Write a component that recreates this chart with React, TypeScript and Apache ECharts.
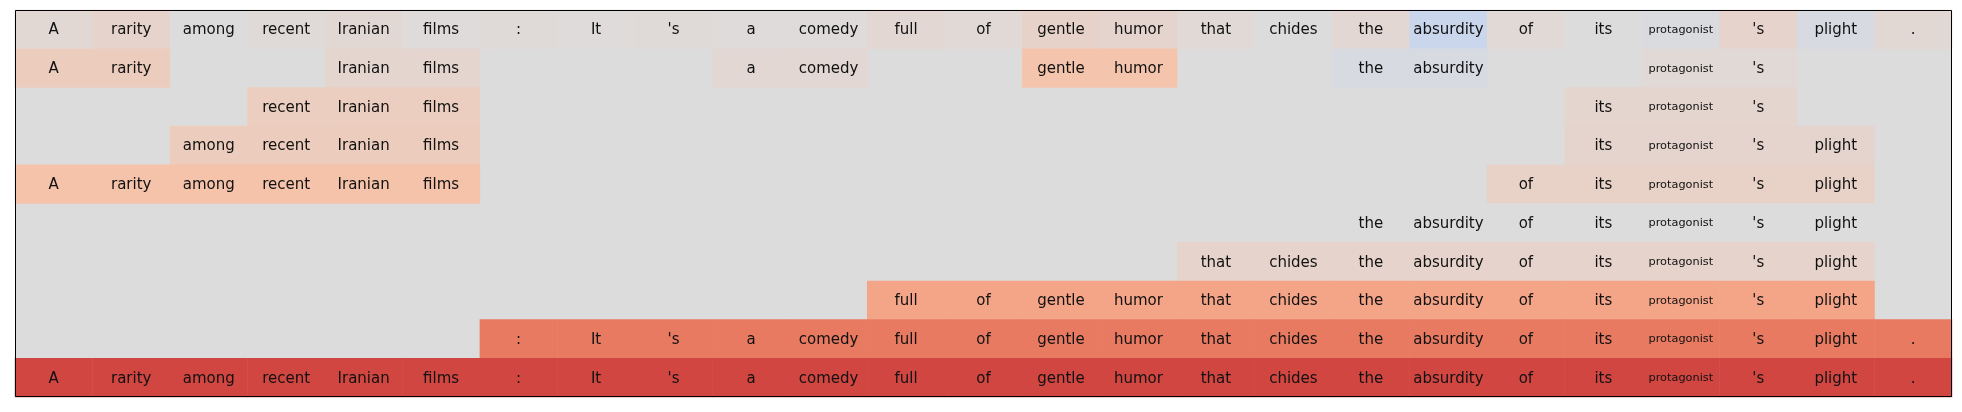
import React, { useEffect, useRef } from "react";
import * as echarts from "echarts";

const tokens = ["A", "rarity", "among", "recent", "Iranian", "films", ":", "It", "'s", "a", "comedy", "full", "of", "gentle", "humor", "that", "chides", "the", "absurdity", "of", "its", "protagonist", "'s", "plight", "."];

const _ = null;
const row0 = [0.04, 0.09, 0.0, 0.02, 0.04, 0.01, 0.02, 0.01, 0.02, 0.01, 0.01, 0.05, 0.03, 0.1, 0.08, 0.03, 0.0, 0.05, -0.13, 0.03, 0.0, -0.03, 0.09, -0.04, 0.04];
const row1 = [0.16, 0.16, _, _, 0.07, 0.07, _, _, _, 0.05, 0.05, _, _, 0.25, 0.25, _, _, -0.04, -0.04, _, _, 0.03, 0.03, _, _];
const row2 = [_, _, _, 0.15, 0.15, 0.15, _, _, _, _, _, _, _, _, _, _, _, _, _, _, 0.07, 0.07, 0.07, _, _];
const row3 = [_, _, 0.16, 0.16, 0.16, 0.16, _, _, _, _, _, _, _, _, _, _, _, _, _, _, 0.08, 0.08, 0.08, 0.08, _];
const row4 = [0.26, 0.26, 0.26, 0.26, 0.26, 0.26, _, _, _, _, _, _, _, _, _, _, _, _, _, 0.11, 0.11, 0.11, 0.11, 0.11, _];
const row5 = [_, _, _, _, _, _, _, _, _, _, _, _, _, _, _, _, _, -0.01, -0.01, -0.01, -0.01, -0.01, -0.01, -0.01, _];
const row6 = [_, _, _, _, _, _, _, _, _, _, _, _, _, _, _, 0.09, 0.09, 0.09, 0.09, 0.09, 0.09, 0.09, 0.09, 0.09, _];
const row7 = [_, _, _, _, _, _, _, _, _, _, _, 0.44, 0.44, 0.44, 0.44, 0.44, 0.44, 0.44, 0.44, 0.44, 0.44, 0.44, 0.44, 0.44, _];
const row8 = [_, _, _, _, _, _, 0.64, 0.64, 0.64, 0.64, 0.64, 0.64, 0.64, 0.64, 0.64, 0.64, 0.64, 0.64, 0.64, 0.64, 0.64, 0.64, 0.64, 0.64, 0.64];
const row9 = [0.82, 0.82, 0.82, 0.82, 0.82, 0.82, 0.82, 0.82, 0.82, 0.82, 0.82, 0.82, 0.82, 0.82, 0.82, 0.82, 0.82, 0.82, 0.82, 0.82, 0.82, 0.82, 0.82, 0.82, 0.82];
const rows = [row0, row1, row2, row3, row4, row5, row6, row7, row8, row9];

const coolwarm = ["#3b4cc0", "#6282ea", "#8db0fe", "#b8d0f9", "#dddcdc", "#f5c4ac", "#f49a7b", "#de604d", "#b40426"];

export default function App() {
  const ref = useRef<HTMLDivElement>(null);
  useEffect(() => {
    if (!ref.current) return;
    const chart = echarts.init(ref.current, undefined, { renderer: "svg" });
    const data: any[] = [];
    rows.forEach((r, y) => {
      r.forEach((v, x) => {
        if (v === null) return;
        const item: any = { value: [x, y, v] };
        if (tokens[x] === "protagonist") item.label = { fontSize: 11.3 };
        data.push(item);
      });
    });
    const L = 15, T = 10, W = 1937, H = 387;
    chart.setOption({
      animation: false,
      grid: { left: L, top: T, width: W, height: H, show: true, backgroundColor: "#dddcdc", borderWidth: 0 },
      xAxis: { type: "category", data: tokens.map((_t, i) => String(i)), show: false },
      yAxis: { type: "category", data: rows.map((_r, i) => String(i)), inverse: true, show: false },
      visualMap: { show: false, min: -1, max: 1, dimension: 2, inRange: { color: coolwarm } },
      series: [
        {
          type: "heatmap",
          data,
          label: {
            show: true,
            color: "#111",
            fontSize: 15,
            fontFamily: "DejaVu Sans",
            formatter: (p: any) => tokens[p.value[0]],
          },
          emphasis: { disabled: true },
          itemStyle: { borderWidth: 0 },
        },
      ],
      graphic: [
        {
          type: "rect",
          z: 100,
          shape: { x: L + 0.5, y: T + 0.5, width: W - 1, height: H - 1 },
          style: { fill: "none", stroke: "#000", lineWidth: 1 },
        },
      ],
    });
    return () => chart.dispose();
  }, []);
  return <div ref={ref} style={{ position: "fixed", left: 0, top: 0, width: 1962, height: 412 }} />;
}
